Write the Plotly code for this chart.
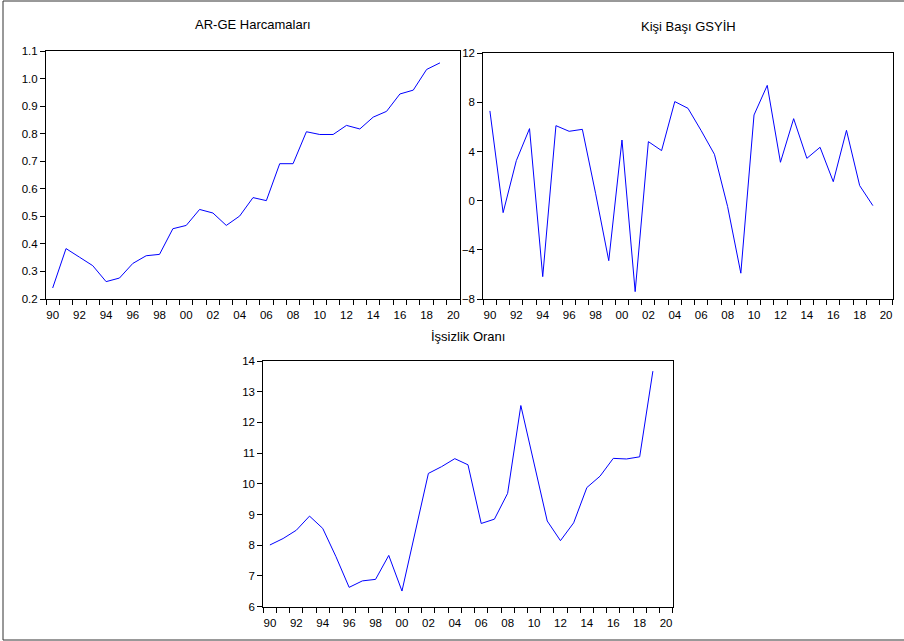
import plotly.graph_objects as go

years = list(range(1990, 2020))
arge = [0.24, 0.383, 0.352, 0.321, 0.263, 0.276, 0.329, 0.357, 0.362, 0.455,
        0.467, 0.525, 0.512, 0.467, 0.501, 0.568, 0.557, 0.691, 0.691, 0.807,
        0.797, 0.797, 0.830, 0.817, 0.860, 0.881, 0.944, 0.958, 1.033, 1.057]
gsyih = [7.31, -0.97, 3.26, 5.87, -6.18, 6.11, 5.65, 5.81, 0.61, -4.88,
         4.94, -7.4, 4.81, 4.08, 8.07, 7.52, 5.7, 3.78, -0.48, -5.9,
         6.98, 9.39, 3.13, 6.68, 3.45, 4.35, 1.55, 5.73, 1.23, -0.40]
issizlik = [8.01, 8.22, 8.49, 8.95, 8.55, 7.63, 6.63, 6.84, 6.89, 7.67,
            6.51, 8.43, 10.34, 10.56, 10.82, 10.62, 8.71, 8.85, 9.69, 12.55,
            10.65, 8.79, 8.15, 8.73, 9.88, 10.25, 10.83, 10.81, 10.88, 13.67]

titles = ["AR-GE Harcamaları", "Kişi Başı GSYİH", "İşsizlik Oranı"]
label_years = list(range(1990, 2021, 2))
label_text = [f"{y % 100:02d}" for y in label_years]
bound_years = [y - 0.5 for y in range(1990, 2022)]

W, H = 904, 641
FONT = "Liberation Sans, Arial, sans-serif"


def px(x):
    return x / W


def py(y):
    return 1 - y / H


# pixel boxes: (left, right, top, bottom)
boxes = [(46, 460, 51, 299), (483.3, 892.7, 53.3, 299), (263.3, 672.7, 361, 606.7)]
yranges = [[0.2, 1.1], [-8, 12], [6, 14]]
ydticks = [0.1, 4, 1]
yformats = [".1f", "d", "d"]
series = [arge, gsyih, issizlik]
title_pos = [(253, 24), (688, 27), (468, 336)]

fig = go.Figure()
layout = dict(template="none", width=W, height=H,
              margin=dict(l=0, r=0, t=0, b=0, autoexpand=False),
              paper_bgcolor="white", plot_bgcolor="white", showlegend=False,
              font=dict(family=FONT, size=11.5, color="black"))
annotations = []
for i in range(3):
    n = "" if i == 0 else str(i + 1)
    l, r, t, b = boxes[i]
    fig.add_trace(go.Scatter(x=years, y=series[i], mode="lines",
                             line=dict(color="#0000FF", width=1),
                             xaxis="x" + n, yaxis="y" + n, hoverinfo="x+y"))
    layout["xaxis" + n] = dict(
        domain=[px(l), px(r)], range=[1989.5, 2020.5], anchor="y" + n,
        tickmode="array", tickvals=label_years, ticktext=label_text,
        ticks="outside", ticklen=5, tickcolor="rgba(0,0,0,0)",
        minor=dict(tickmode="array", tickvals=bound_years, ticks="outside",
                   ticklen=5, tickcolor="black", tickwidth=1, showgrid=False),
        showline=True, linecolor="black", linewidth=1, mirror=True,
        showgrid=False, zeroline=False, fixedrange=True, automargin=False)
    layout["yaxis" + n] = dict(
        domain=[py(b), py(t)], range=yranges[i], anchor="x" + n,
        tickmode="linear", tick0=yranges[i][0], dtick=ydticks[i], tickformat=yformats[i],
        ticks="outside", ticklen=5, tickcolor="black",
        showline=True, linecolor="black", linewidth=1, mirror=True,
        showgrid=False, zeroline=False, fixedrange=True, automargin=False)
    tx, ty = title_pos[i]
    annotations.append(dict(text=titles[i], x=px(tx), y=py(ty), xref="paper", yref="paper",
                            xanchor="center", yanchor="middle", showarrow=False,
                            font=dict(size=13, family=FONT, color="black")))

layout["annotations"] = annotations
layout["shapes"] = [dict(type="rect", xref="paper", yref="paper",
                         x0=px(3), x1=px(906), y0=py(640), y1=py(1),
                         line=dict(color="#333333", width=1))]
fig.update_layout(**layout)
fig.write_html("out.html")
